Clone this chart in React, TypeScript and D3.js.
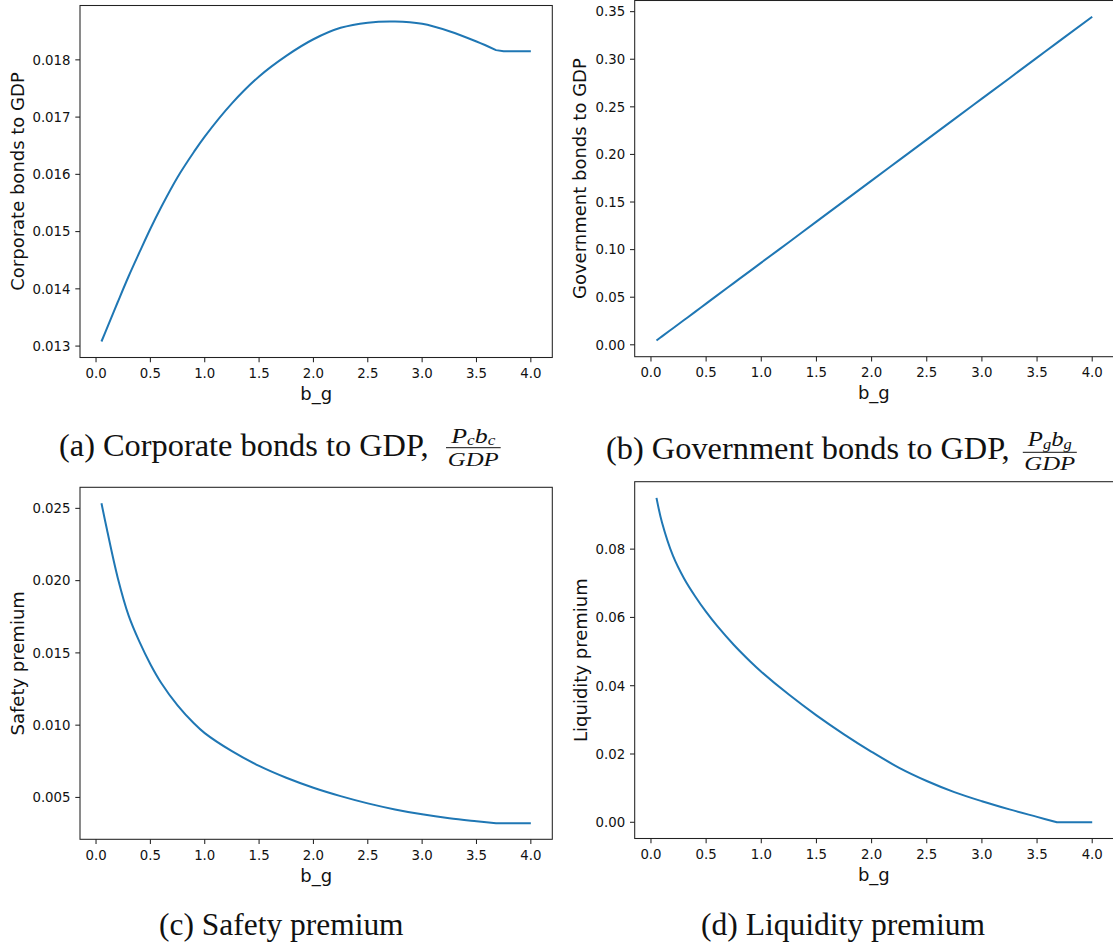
import React from "react";
import * as d3 from "d3";

// b_g grid shared by the four panels
const bgGrid = [0.05, 0.1, 0.2, 0.3, 0.4, 0.5, 0.6, 0.75, 0.9, 1.0, 1.25, 1.5, 1.75, 2.0, 2.25, 2.5, 2.75, 3.0, 3.25, 3.5, 3.68, 3.75, 4.0];
// the constraint binds from here on, the series go flat
const kinkAt = 3.68;

const corporateBonds = [0.01308, 0.01331, 0.01377, 0.01422, 0.01464, 0.01505, 0.01543, 0.01595, 0.01639, 0.01666, 0.01724, 0.01771, 0.01807, 0.01836, 0.01856, 0.01865, 0.01867, 0.01863, 0.0185, 0.01832, 0.01817, 0.01815, 0.01815];
const governmentBonds = [0.0045, 0.0088, 0.0174, 0.026, 0.0346, 0.0433, 0.0519, 0.0648, 0.0777, 0.0863, 0.1078, 0.1294, 0.1509, 0.1725, 0.194, 0.2155, 0.2371, 0.2586, 0.2801, 0.3017, 0.3172, 0.3232, 0.3447];
const safetyPremium = [0.02535, 0.02355, 0.02019, 0.01758, 0.01576, 0.01422, 0.01292, 0.01137, 0.01013, 0.00945, 0.0082, 0.00718, 0.00636, 0.00567, 0.00509, 0.00459, 0.00417, 0.00383, 0.00356, 0.00335, 0.00321, 0.00321, 0.00321];
const liquidityPremium = [0.095, 0.0878, 0.078, 0.0714, 0.0662, 0.0616, 0.0575, 0.052, 0.0471, 0.0441, 0.0374, 0.03132, 0.02577, 0.02064, 0.01594, 0.01209, 0.00884, 0.00617, 0.00378, 0.00158, 0.0, 0.0, 0.0];

const xTicks = [0, 0.5, 1, 1.5, 2, 2.5, 3, 3.5, 4];
const corpTicks = [0.013, 0.014, 0.015, 0.016, 0.017, 0.018];
const govTicks = [0, 0.05, 0.1, 0.15, 0.2, 0.25, 0.3, 0.35];
const safetyTicks = [0.005, 0.01, 0.015, 0.02, 0.025];
const liqTicks = [0, 0.02, 0.04, 0.06, 0.08];

const BLUE = "#1f77b4";
const SANS = "'DejaVu Sans', sans-serif";
const SERIF = "'Liberation Serif', 'Times New Roman', serif";

function Panel({ values, yTicks, yFmt, yLabel, left, right, top, bottom, labelX }) {
    // matplotlib-style 5% margins around the data
    const xExt = d3.extent(bgGrid);
    const xPad = (xExt[1] - xExt[0]) * 0.05;
    const yExt = d3.extent(values);
    const yPad = (yExt[1] - yExt[0]) * 0.05;

    const x = d3.scaleLinear().domain([xExt[0] - xPad, xExt[1] + xPad]).range([left, right]);
    const y = d3.scaleLinear().domain([yExt[0] - yPad, yExt[1] + yPad]).range([bottom, top]);

    const pts = bgGrid.map((b, i) => [b, values[i]]);
    const k = bgGrid.indexOf(kinkAt);
    const smooth = d3.line().x(d => x(d[0])).y(d => y(d[1])).curve(d3.curveCatmullRom.alpha(0.5));
    const straight = d3.line().x(d => x(d[0])).y(d => y(d[1]));

    const fmt = d3.format(yFmt);
    const midY = (top + bottom) / 2;

    return (
        <g>
            <path d={smooth(pts.slice(0, k + 1)) + straight(pts.slice(k)).replace(/^M/, "L")}
                fill="none" stroke={BLUE} strokeWidth={2} strokeLinejoin="round" strokeLinecap="butt" />
            <rect x={left} y={top} width={right - left} height={bottom - top} fill="none" stroke="#222" strokeWidth={1.05} />
            {xTicks.map(t => (
                <g key={"x" + t}>
                    <line x1={x(t)} x2={x(t)} y1={bottom} y2={bottom + 4.7} stroke="#222" strokeWidth={1.05} />
                    <text x={x(t)} y={bottom + 20.5} textAnchor="middle" fontFamily={SANS} fontSize={13.3} fill="#111">
                        {t.toFixed(1)}
                    </text>
                </g>
            ))}
            {yTicks.map(t => (
                <g key={"y" + t}>
                    <line x1={left - 4.7} x2={left} y1={y(t)} y2={y(t)} stroke="#222" strokeWidth={1.05} />
                    <text x={left - 9.5} y={y(t) + 4.8} textAnchor="end" fontFamily={SANS} fontSize={13.3} fill="#111">
                        {fmt(t)}
                    </text>
                </g>
            ))}
            <text x={(left + Math.min(right, 1113)) / 2} y={bottom + 42.5} textAnchor="middle" fontFamily={SANS} fontSize={18} fill="#111">
                b_g
            </text>
            <text transform={`translate(${labelX},${midY}) rotate(-90)`} textAnchor="middle" fontFamily={SANS} fontSize={18} fill="#111">
                {yLabel}
            </text>
        </g>
    );
}

function Fraction({ cx, barY, barX1, barX2, sub, numY, denY }) {
    return (
        <g fontFamily={SERIF} fontStyle="italic" fill="#111">
            <text x={cx} y={numY} textAnchor="middle" fontSize={21} textLength={44} lengthAdjust="spacingAndGlyphs">
                <tspan>P</tspan>
                <tspan fontSize={14} dy={2.5}>{sub}</tspan>
                <tspan dy={-2.5}>b</tspan>
                <tspan fontSize={14} dy={2.5}>{sub}</tspan>
            </text>
            <line x1={barX1} x2={barX2} y1={barY} y2={barY} stroke="#111" strokeWidth={1} />
            <text x={cx} y={denY} textAnchor="middle" fontSize={19} textLength={51} lengthAdjust="spacingAndGlyphs">GDP</text>
        </g>
    );
}

export default function App() {
    return (
        <svg width={1113} height={947} style={{ position: "absolute", left: 0, top: 0, background: "#fff" }}>
            <rect width={1113} height={947} fill="#fff" />
            <Panel values={corporateBonds} yTicks={corpTicks} yFmt=".3f" yLabel="Corporate bonds to GDP"
                left={80} right={552.3} top={5.5} bottom={357.5} labelX={24} />
            <Panel values={governmentBonds} yTicks={govTicks} yFmt=".2f" yLabel="Government bonds to GDP"
                left={634.7} right={1114} top={0.5} bottom={356.7} labelX={585.5} />
            <Panel values={safetyPremium} yTicks={safetyTicks} yFmt=".3f" yLabel="Safety premium"
                left={80} right={552.3} top={487.3} bottom={839.3} labelX={24} />
            <Panel values={liquidityPremium} yTicks={liqTicks} yFmt=".2f" yLabel="Liquidity premium"
                left={634.7} right={1114} top={481.7} bottom={838.5} labelX={587} />

            <text x={59} y={456} fontFamily={SERIF} fontSize={31} fill="#111" textLength={369.5} lengthAdjust="spacingAndGlyphs">
                (a) Corporate bonds to GDP,
            </text>
            <Fraction cx={473.3} barY={447.7} barX1={446} barX2={500.7} sub="c" numY={442.5} denY={466} />

            <text x={606} y={459} fontFamily={SERIF} fontSize={31} fill="#111" textLength={403.7} lengthAdjust="spacingAndGlyphs">
                (b) Government bonds to GDP,
            </text>
            <Fraction cx={1049.8} barY={452.3} barX1={1022.8} barX2={1076.8} sub="g" numY={446} denY={469.5} />

            <text x={159} y={935} fontFamily={SERIF} fontSize={31} fill="#111" textLength={244.6} lengthAdjust="spacingAndGlyphs">
                (c) Safety premium
            </text>
            <text x={701} y={935} fontFamily={SERIF} fontSize={31} fill="#111" textLength={284} lengthAdjust="spacingAndGlyphs">
                (d) Liquidity premium
            </text>
        </svg>
    );
}
